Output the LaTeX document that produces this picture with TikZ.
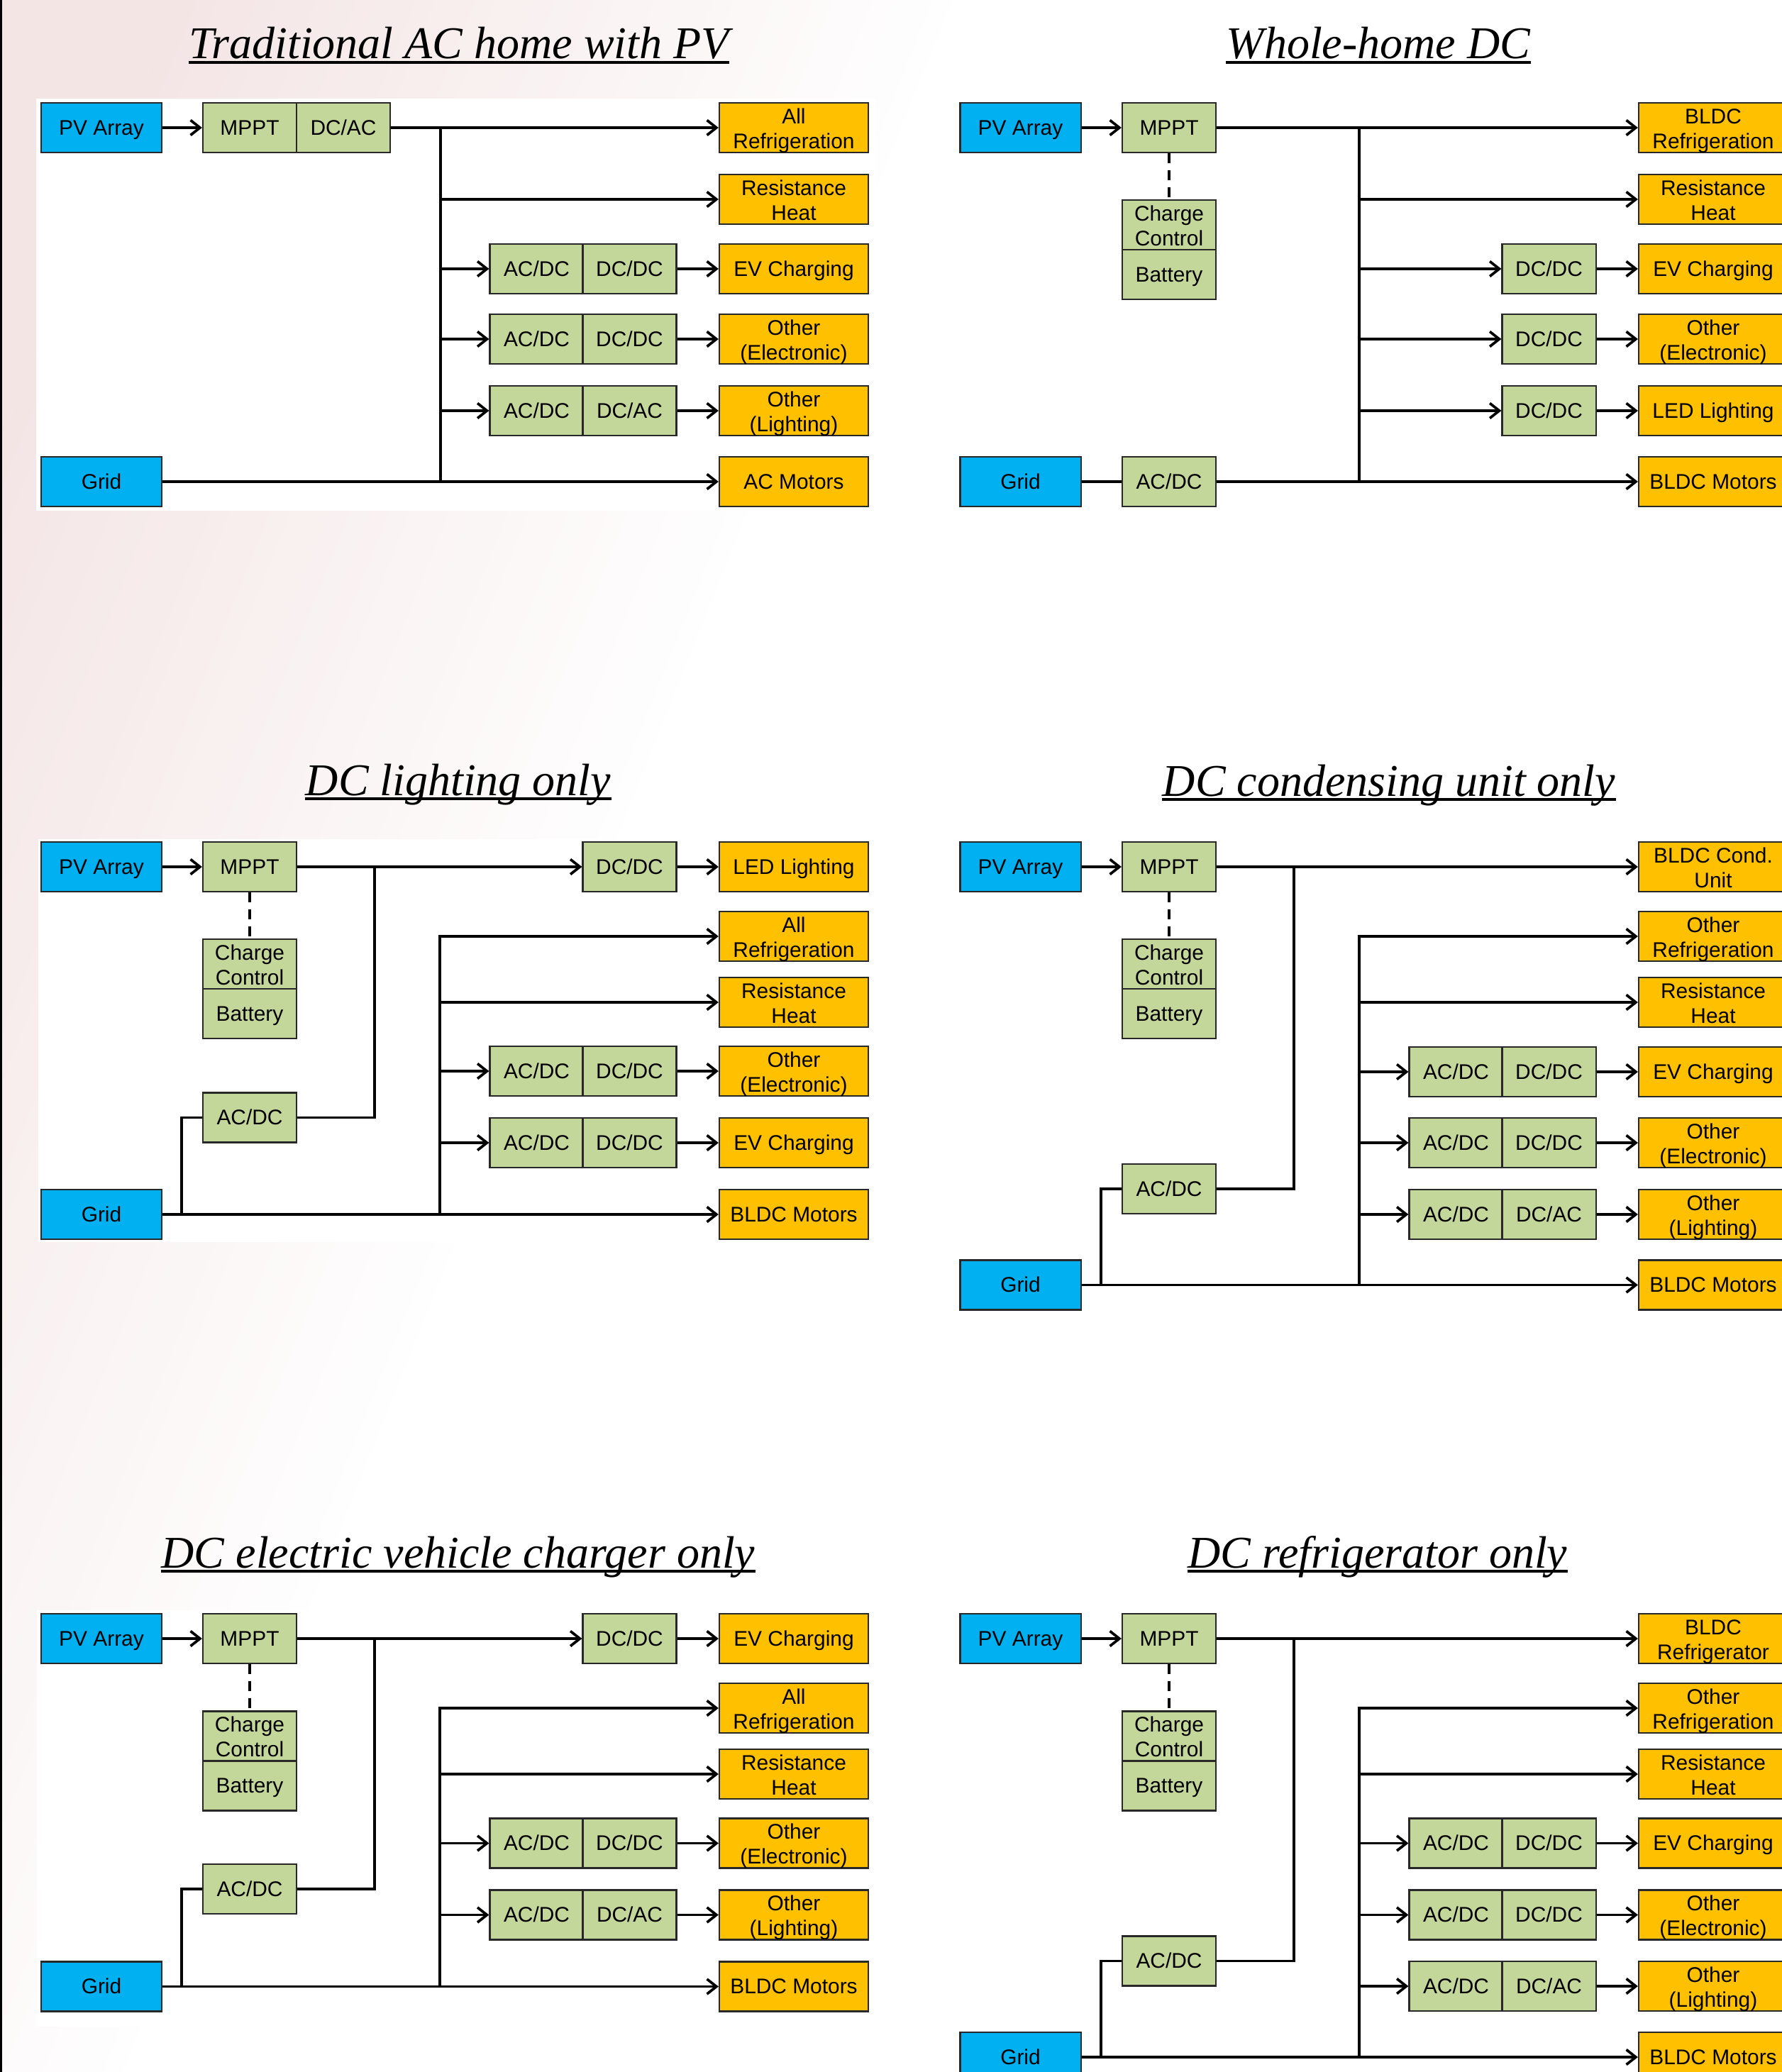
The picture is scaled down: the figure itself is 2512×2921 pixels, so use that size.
\documentclass[tikz,border=0pt]{standalone}
\usepackage{fontspec}
\setmainfont{Liberation Sans}
\newfontfamily\titlefont{Liberation Serif}
\usetikzlibrary{arrows.meta}
\definecolor{pvblue}{RGB}{0,176,240}
\definecolor{convgreen}{RGB}{196,215,155}
\definecolor{loadorange}{RGB}{255,192,0}
\definecolor{bgpink}{RGB}{244,229,229}
\definecolor{boxline}{RGB}{40,40,40}
\newcommand{\boxstrut}{\rule[-0.212em]{0pt}{1.117em}}
\newcommand{\twol}[2]{\raisebox{-5.35pt}[0pt][0pt]{\begin{tabular}[b]{@{}c@{}}#1\\#2\end{tabular}}}
\begin{document}
\begin{tikzpicture}[x=0.01cm,y=-0.01cm,
  boxbase/.style={draw=boxline, line width=0.6pt, inner sep=0pt, minimum height=0.70cm, align=center, font=\fontsize{8.5}{9.9}\selectfont, text=black, execute at begin node=\boxstrut, execute at end node=\boxstrut},
  srcbox/.style={boxbase, fill=pvblue, minimum width=1.70cm},
  convbox/.style={boxbase, fill=convgreen, minimum width=1.32cm},
  loadbox/.style={boxbase, fill=loadorange, minimum width=2.10cm},
  wire/.style={line width=1.05pt, draw=black},
  feedarrow/.style={wire, -{Straight Barb[length=3.8pt,width=6pt]}},
  dashlink/.style={line width=0.9pt, draw=black, dash pattern=on 4pt off 2.8pt},
  ttl/.style={font=\titlefont\itshape\fontsize{18.2}{20}\selectfont, inner sep=0pt, anchor=base, text depth=0pt},
  uline/.style={line width=1.05pt, draw=black},
]
\useasboundingbox (0,0) rectangle (2512,2921);
% background
\begin{scope}
\clip (0,0) rectangle (2512,2921);
\fill[white] (0,0) rectangle (2512,2921);
\fill[bgpink] (-1400,0) -- (250,0) -- (-920,2921) -- (-1400,2921) -- cycle;
\foreach \i in {0,...,39} {
  \pgfmathsetmacro{\xa}{250+\i*28}
  \pgfmathsetmacro{\xb}{250+(\i+1)*28+1}
  \pgfmathsetmacro{\pc}{100*(1-(\i+0.5)/40)}
  \fill[bgpink!\pc!white] (\xa,0) -- (\xb,0) -- (\xb-1170,2921) -- (\xa-1170,2921) -- cycle;
}
\fill[black] (0,0) rectangle (3,2921);
\fill[white] (51,139) rectangle (1235,720);
\fill[white] (54,1183) rectangle (1235,1751);
\fill[white] (52,2270) rectangle (1235,2857);
\end{scope}

% titles
\node[ttl] (t1) at (647,83) {Traditional AC home with PV};
\node[ttl] (t2) at (1943,83) {Whole-home DC};
\node[ttl] (t3) at (646,1121) {DC lighting only};
\node[ttl] (t4) at (1958,1122) {DC condensing unit only};
\node[ttl] (t5) at (646,2210) {DC electric vehicle charger only};
\node[ttl] (t6) at (1942,2210) {DC refrigerator only};
\foreach \t in {t1,t2,t3,t4,t5,t6} {
  \draw[uline] ([yshift=-0.05cm]\t.base west) -- ([yshift=-0.05cm]\t.base east);
}

% ===== D1: Traditional AC home with PV =====
\node[srcbox] (a-pv) at (143,180) {PV Array};
\node[convbox] (a-mppt) at (352,180) {MPPT};
\node[convbox] (a-dcac) at (484,180) {DC/AC};
\node[srcbox] (a-grid) at (143,679) {Grid};
\node[loadbox] (a-l1) at (1119,180) {\twol{All}{Refrigeration}};
\node[loadbox] (a-l2) at (1119,281) {\twol{Resistance}{Heat}};
\node[loadbox] (a-l3) at (1119,379) {EV Charging};
\node[loadbox] (a-l4) at (1119,478) {\twol{Other}{(Electronic)}};
\node[loadbox] (a-l5) at (1119,579) {\twol{Other}{(Lighting)}};
\node[loadbox] (a-l6) at (1119,679) {AC Motors};
\node[convbox] (a-p3a) at (756.5,379) {AC/DC};
\node[convbox] (a-p3b) at (887.5,379) {DC/DC};
\node[convbox] (a-p4a) at (756.5,478) {AC/DC};
\node[convbox] (a-p4b) at (887.5,478) {DC/DC};
\node[convbox] (a-p5a) at (756.5,579) {AC/DC};
\node[convbox] (a-p5b) at (887.5,579) {DC/AC};
\coordinate (a-bt) at (621,180);
\coordinate (a-bb) at (621,679);
\draw[feedarrow] (a-pv) -- (a-mppt);
\draw[feedarrow] (a-dcac) -- (a-l1);
\draw[feedarrow] (a-grid) -- (a-l6);
\draw[wire] (a-bt) -- (a-bb);
\draw[feedarrow] (a-bt |- a-l2) -- (a-l2);
\draw[feedarrow] (a-bt |- a-p3a) -- (a-p3a);
\draw[feedarrow] (a-bt |- a-p4a) -- (a-p4a);
\draw[feedarrow] (a-bt |- a-p5a) -- (a-p5a);
\draw[feedarrow] (a-p3b) -- (a-l3);
\draw[feedarrow] (a-p4b) -- (a-l4);
\draw[feedarrow] (a-p5b) -- (a-l5);

% ===== D2: Whole-home DC =====
\node[srcbox] (b-pv) at (1438.5,180) {PV Array};
\node[convbox] (b-mppt) at (1648,180) {MPPT};
\node[convbox] (b-cc) at (1648,317) {\twol{Charge}{Control}};
\node[convbox] (b-bat) at (1648,387) {Battery};
\node[srcbox] (b-grid) at (1438.5,679) {Grid};
\node[convbox] (b-acdc) at (1648,679) {AC/DC};
\node[loadbox] (b-l1) at (2415,180) {\twol{BLDC}{Refrigeration}};
\node[loadbox] (b-l2) at (2415,281) {\twol{Resistance}{Heat}};
\node[loadbox] (b-l3) at (2415,379) {EV Charging};
\node[loadbox] (b-l4) at (2415,478) {\twol{Other}{(Electronic)}};
\node[loadbox] (b-l5) at (2415,579) {LED Lighting};
\node[loadbox] (b-l6) at (2415,679) {BLDC Motors};
\node[convbox] (b-d3) at (2183.5,379) {DC/DC};
\node[convbox] (b-d4) at (2183.5,478) {DC/DC};
\node[convbox] (b-d5) at (2183.5,579) {DC/DC};
\coordinate (b-bt) at (1916,180);
\coordinate (b-bb) at (1916,679);
\draw[feedarrow] (b-pv) -- (b-mppt);
\draw[feedarrow] (b-mppt) -- (b-l1);
\draw[dashlink] (b-mppt) -- (b-cc);
\draw[wire] (b-grid) -- (b-acdc);
\draw[feedarrow] (b-acdc) -- (b-l6);
\draw[wire] (b-bt) -- (b-bb);
\draw[feedarrow] (b-bt |- b-l2) -- (b-l2);
\draw[feedarrow] (b-bt |- b-d3) -- (b-d3);
\draw[feedarrow] (b-bt |- b-d4) -- (b-d4);
\draw[feedarrow] (b-bt |- b-d5) -- (b-d5);
\draw[feedarrow] (b-d3) -- (b-l3);
\draw[feedarrow] (b-d4) -- (b-l4);
\draw[feedarrow] (b-d5) -- (b-l5);

% ===== D3: DC lighting only =====
\node[srcbox] (c-pv) at (143,1222) {PV Array};
\node[convbox] (c-mppt) at (352,1222) {MPPT};
\node[convbox] (c-cc) at (352,1359) {\twol{Charge}{Control}};
\node[convbox] (c-bat) at (352,1429) {Battery};
\node[convbox] (c-acdc) at (352,1575.5) {AC/DC};
\node[srcbox] (c-grid) at (143,1712) {Grid};
\node[convbox] (c-dc) at (887.5,1222) {DC/DC};
\node[loadbox] (c-l1) at (1119,1222) {LED Lighting};
\node[loadbox] (c-l2) at (1119,1320) {\twol{All}{Refrigeration}};
\node[loadbox] (c-l3) at (1119,1413) {\twol{Resistance}{Heat}};
\node[loadbox] (c-l4) at (1119,1510) {\twol{Other}{(Electronic)}};
\node[loadbox] (c-l5) at (1119,1611) {EV Charging};
\node[loadbox] (c-l6) at (1119,1712) {BLDC Motors};
\node[convbox] (c-p4a) at (756.5,1510) {AC/DC};
\node[convbox] (c-p4b) at (887.5,1510) {DC/DC};
\node[convbox] (c-p5a) at (756.5,1611) {AC/DC};
\node[convbox] (c-p5b) at (887.5,1611) {DC/DC};
\coordinate (c-v) at (528,1222);
\coordinate (c-g) at (256,1712);
\coordinate (c-bt) at (620,1320);
\coordinate (c-bb) at (620,1712);
\draw[feedarrow] (c-pv) -- (c-mppt);
\draw[feedarrow] (c-mppt) -- (c-dc);
\draw[feedarrow] (c-dc) -- (c-l1);
\draw[dashlink] (c-mppt) -- (c-cc);
\draw[wire] (c-v) |- (c-acdc);
\draw[wire] (c-g) |- (c-acdc);
\draw[feedarrow] (c-grid) -- (c-l6);
\draw[feedarrow] (c-bb) -- (c-bt) -- (c-l2);
\draw[feedarrow] (c-bt |- c-l3) -- (c-l3);
\draw[feedarrow] (c-bt |- c-p4a) -- (c-p4a);
\draw[feedarrow] (c-bt |- c-p5a) -- (c-p5a);
\draw[feedarrow] (c-p4b) -- (c-l4);
\draw[feedarrow] (c-p5b) -- (c-l5);

% ===== D4: DC condensing unit only =====
\node[srcbox] (d-pv) at (1438.5,1222) {PV Array};
\node[convbox] (d-mppt) at (1648,1222) {MPPT};
\node[convbox] (d-cc) at (1648,1359) {\twol{Charge}{Control}};
\node[convbox] (d-bat) at (1648,1429) {Battery};
\node[convbox] (d-acdc) at (1648,1676) {AC/DC};
\node[srcbox] (d-grid) at (1438.5,1811.5) {Grid};
\node[loadbox] (d-l1) at (2415,1222) {\twol{BLDC Cond.}{Unit}};
\node[loadbox] (d-l2) at (2415,1320) {\twol{Other}{Refrigeration}};
\node[loadbox] (d-l3) at (2415,1413) {\twol{Resistance}{Heat}};
\node[loadbox] (d-l4) at (2415,1511) {EV Charging};
\node[loadbox] (d-l5) at (2415,1611) {\twol{Other}{(Electronic)}};
\node[loadbox] (d-l6) at (2415,1712) {\twol{Other}{(Lighting)}};
\node[loadbox] (d-l7) at (2415,1811.5) {BLDC Motors};
\node[convbox] (d-p4a) at (2052.5,1511) {AC/DC};
\node[convbox] (d-p4b) at (2183.5,1511) {DC/DC};
\node[convbox] (d-p5a) at (2052.5,1611) {AC/DC};
\node[convbox] (d-p5b) at (2183.5,1611) {DC/DC};
\node[convbox] (d-p6a) at (2052.5,1712) {AC/DC};
\node[convbox] (d-p6b) at (2183.5,1712) {DC/AC};
\coordinate (d-v) at (1824,1222);
\coordinate (d-g) at (1552,1811.5);
\coordinate (d-bt) at (1916,1320);
\coordinate (d-bb) at (1916,1811.5);
\draw[feedarrow] (d-pv) -- (d-mppt);
\draw[feedarrow] (d-mppt) -- (d-l1);
\draw[dashlink] (d-mppt) -- (d-cc);
\draw[wire] (d-v) |- (d-acdc);
\draw[wire] (d-g) |- (d-acdc);
\draw[feedarrow] (d-grid) -- (d-l7);
\draw[feedarrow] (d-bb) -- (d-bt) -- (d-l2);
\draw[feedarrow] (d-bt |- d-l3) -- (d-l3);
\draw[feedarrow] (d-bt |- d-p4a) -- (d-p4a);
\draw[feedarrow] (d-bt |- d-p5a) -- (d-p5a);
\draw[feedarrow] (d-bt |- d-p6a) -- (d-p6a);
\draw[feedarrow] (d-p4b) -- (d-l4);
\draw[feedarrow] (d-p5b) -- (d-l5);
\draw[feedarrow] (d-p6b) -- (d-l6);

% ===== D5: DC electric vehicle charger only =====
\node[srcbox] (e-pv) at (143,2310) {PV Array};
\node[convbox] (e-mppt) at (352,2310) {MPPT};
\node[convbox] (e-cc) at (352,2447.5) {\twol{Charge}{Control}};
\node[convbox] (e-bat) at (352,2517.5) {Battery};
\node[convbox] (e-acdc) at (352,2663) {AC/DC};
\node[srcbox] (e-grid) at (143,2800.5) {Grid};
\node[convbox] (e-dc) at (887.5,2310) {DC/DC};
\node[loadbox] (e-l1) at (1119,2310) {EV Charging};
\node[loadbox] (e-l2) at (1119,2408) {\twol{All}{Refrigeration}};
\node[loadbox] (e-l3) at (1119,2501) {\twol{Resistance}{Heat}};
\node[loadbox] (e-l4) at (1119,2598.5) {\twol{Other}{(Electronic)}};
\node[loadbox] (e-l5) at (1119,2699.5) {\twol{Other}{(Lighting)}};
\node[loadbox] (e-l6) at (1119,2800.5) {BLDC Motors};
\node[convbox] (e-p4a) at (756.5,2598.5) {AC/DC};
\node[convbox] (e-p4b) at (887.5,2598.5) {DC/DC};
\node[convbox] (e-p5a) at (756.5,2699.5) {AC/DC};
\node[convbox] (e-p5b) at (887.5,2699.5) {DC/AC};
\coordinate (e-v) at (528,2310);
\coordinate (e-g) at (256,2800.5);
\coordinate (e-bt) at (620,2408);
\coordinate (e-bb) at (620,2800.5);
\draw[feedarrow] (e-pv) -- (e-mppt);
\draw[feedarrow] (e-mppt) -- (e-dc);
\draw[feedarrow] (e-dc) -- (e-l1);
\draw[dashlink] (e-mppt) -- (e-cc);
\draw[wire] (e-v) |- (e-acdc);
\draw[wire] (e-g) |- (e-acdc);
\draw[feedarrow] (e-grid) -- (e-l6);
\draw[feedarrow] (e-bb) -- (e-bt) -- (e-l2);
\draw[feedarrow] (e-bt |- e-l3) -- (e-l3);
\draw[feedarrow] (e-bt |- e-p4a) -- (e-p4a);
\draw[feedarrow] (e-bt |- e-p5a) -- (e-p5a);
\draw[feedarrow] (e-p4b) -- (e-l4);
\draw[feedarrow] (e-p5b) -- (e-l5);

% ===== D6: DC refrigerator only =====
\node[srcbox] (f-pv) at (1438.5,2310) {PV Array};
\node[convbox] (f-mppt) at (1648,2310) {MPPT};
\node[convbox] (f-cc) at (1648,2447.5) {\twol{Charge}{Control}};
\node[convbox] (f-bat) at (1648,2517.5) {Battery};
\node[convbox] (f-acdc) at (1648,2764.5) {AC/DC};
\node[srcbox] (f-grid) at (1438.5,2900) {Grid};
\node[loadbox] (f-l1) at (2415,2310) {\twol{BLDC}{Refrigerator}};
\node[loadbox] (f-l2) at (2415,2408) {\twol{Other}{Refrigeration}};
\node[loadbox] (f-l3) at (2415,2501) {\twol{Resistance}{Heat}};
\node[loadbox] (f-l4) at (2415,2598.5) {EV Charging};
\node[loadbox] (f-l5) at (2415,2699.5) {\twol{Other}{(Electronic)}};
\node[loadbox] (f-l6) at (2415,2800) {\twol{Other}{(Lighting)}};
\node[loadbox] (f-l7) at (2415,2900) {BLDC Motors};
\node[convbox] (f-p4a) at (2052.5,2598.5) {AC/DC};
\node[convbox] (f-p4b) at (2183.5,2598.5) {DC/DC};
\node[convbox] (f-p5a) at (2052.5,2699.5) {AC/DC};
\node[convbox] (f-p5b) at (2183.5,2699.5) {DC/DC};
\node[convbox] (f-p6a) at (2052.5,2800) {AC/DC};
\node[convbox] (f-p6b) at (2183.5,2800) {DC/AC};
\coordinate (f-v) at (1824,2310);
\coordinate (f-g) at (1552,2900);
\coordinate (f-bt) at (1916,2408);
\coordinate (f-bb) at (1916,2900);
\draw[feedarrow] (f-pv) -- (f-mppt);
\draw[feedarrow] (f-mppt) -- (f-l1);
\draw[dashlink] (f-mppt) -- (f-cc);
\draw[wire] (f-v) |- (f-acdc);
\draw[wire] (f-g) |- (f-acdc);
\draw[feedarrow] (f-grid) -- (f-l7);
\draw[feedarrow] (f-bb) -- (f-bt) -- (f-l2);
\draw[feedarrow] (f-bt |- f-l3) -- (f-l3);
\draw[feedarrow] (f-bt |- f-p4a) -- (f-p4a);
\draw[feedarrow] (f-bt |- f-p5a) -- (f-p5a);
\draw[feedarrow] (f-bt |- f-p6a) -- (f-p6a);
\draw[feedarrow] (f-p4b) -- (f-l4);
\draw[feedarrow] (f-p5b) -- (f-l5);
\draw[feedarrow] (f-p6b) -- (f-l6);
\end{tikzpicture}
\end{document}
